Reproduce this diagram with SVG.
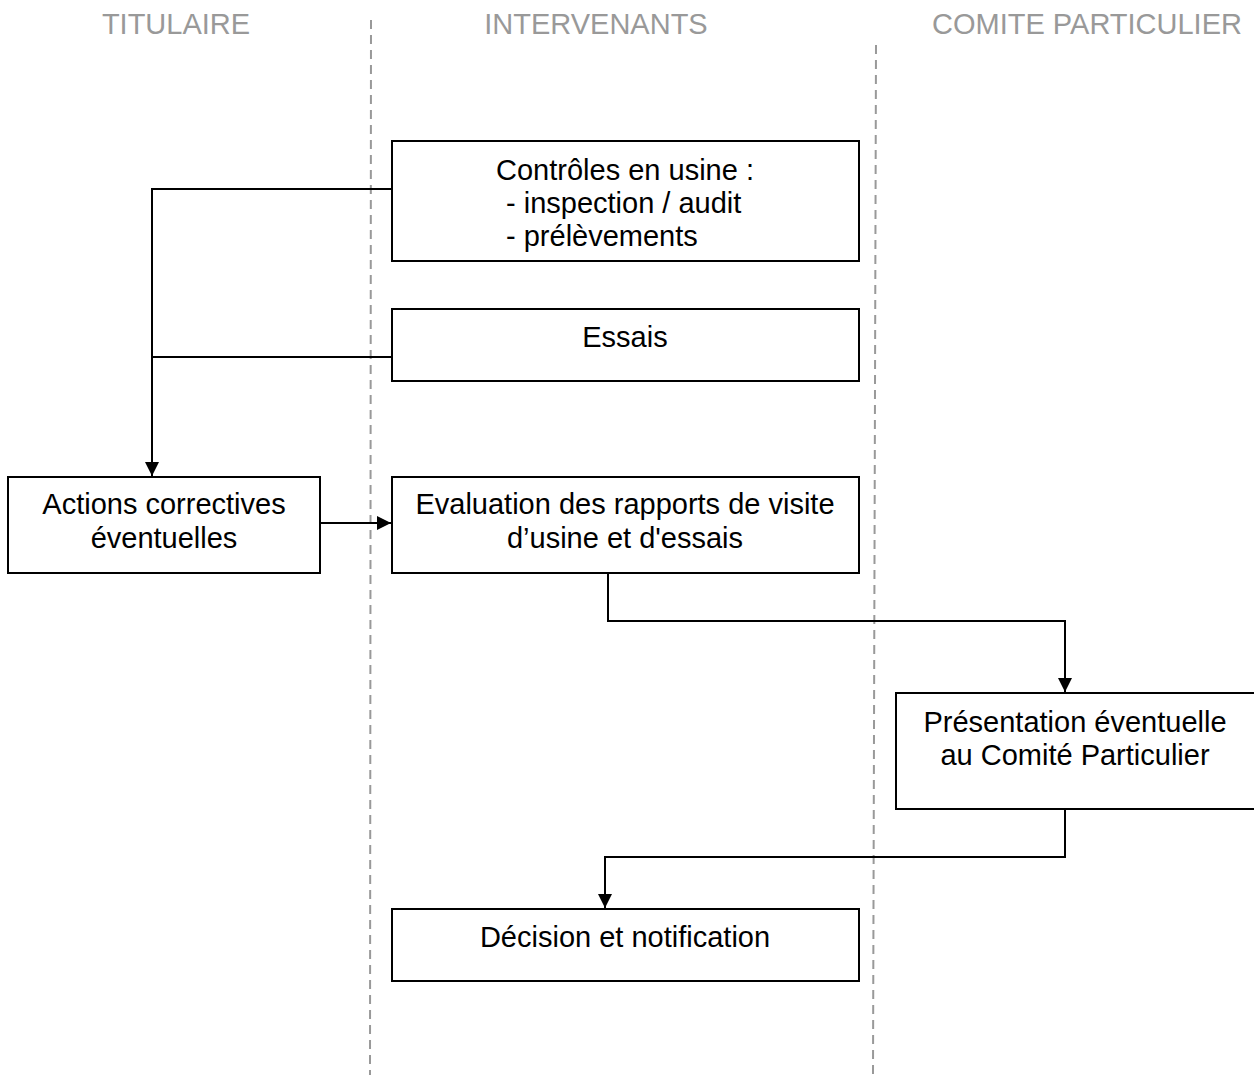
<svg xmlns="http://www.w3.org/2000/svg" width="1254" height="1075" viewBox="0 0 1254 1075">
<defs>
<style>
.lane{stroke:#999;stroke-width:2;stroke-dasharray:9,6;fill:none}
.hdr{font-family:"Liberation Sans",Arial,sans-serif;font-size:29px;fill:#999;text-anchor:middle}
.box{fill:#fff;stroke:#000;stroke-width:2}
.t{font-family:"Liberation Sans",Arial,sans-serif;font-size:29px;fill:#000;text-anchor:middle}
.tl{font-family:"Liberation Sans",Arial,sans-serif;font-size:29px;fill:#000}
.c{fill:none;stroke:#000;stroke-width:2}
</style>
<marker id="ah" viewBox="0 0 10 10" refX="10" refY="5" markerWidth="14" markerHeight="14" markerUnits="userSpaceOnUse" orient="auto">
<path d="M0,0 L10,5 L0,10 z" fill="#000"/>
</marker>
</defs>
<rect width="1254" height="1075" fill="#fff"/>
<g id="lanes">
<line class="lane" x1="371" y1="20" x2="370" y2="1075"/>
<line class="lane" x1="876" y1="45" x2="873" y2="1075"/>
<text class="hdr" x="176" y="34">TITULAIRE</text>
<text class="hdr" x="596" y="34">INTERVENANTS</text>
<text class="hdr" x="1087" y="34">COMITE PARTICULIER</text>
</g>
<g id="connectors">
<polyline class="c" points="392,189 152,189 152,476" marker-end="url(#ah)"/>
<line class="c" x1="392" y1="357" x2="152" y2="357"/>
<line class="c" x1="320" y1="523" x2="391" y2="523" marker-end="url(#ah)"/>
<polyline class="c" points="608,573 608,621 1065,621 1065,692" marker-end="url(#ah)"/>
<polyline class="c" points="1065,808 1065,857 605,857 605,908" marker-end="url(#ah)"/>
</g>
<g id="controles">
<rect class="box" x="392" y="141" width="467" height="120"/>
<text class="t" x="625" y="180">Contrôles en usine :</text>
<text class="tl" x="506" y="213">- inspection / audit</text>
<text class="tl" x="506" y="246">- prélèvements</text>
</g>
<g id="essais">
<rect class="box" x="392" y="309" width="467" height="72"/>
<text class="t" x="625" y="347">Essais</text>
</g>
<g id="actions">
<rect class="box" x="8" y="477" width="312" height="96"/>
<text class="t" x="164" y="514">Actions correctives</text>
<text class="t" x="164" y="548">éventuelles</text>
</g>
<g id="evaluation">
<rect class="box" x="392" y="477" width="467" height="96"/>
<text class="t" x="625" y="514">Evaluation des rapports de visite</text>
<text class="t" x="625" y="548">d’usine et d'essais</text>
</g>
<g id="presentation">
<rect class="box" x="896" y="693" width="362" height="116"/>
<text class="t" x="1075" y="732">Présentation éventuelle</text>
<text class="t" x="1075" y="765">au Comité Particulier</text>
</g>
<g id="decision">
<rect class="box" x="392" y="909" width="467" height="72"/>
<text class="t" x="625" y="947">Décision et notification</text>
</g>
</svg>
